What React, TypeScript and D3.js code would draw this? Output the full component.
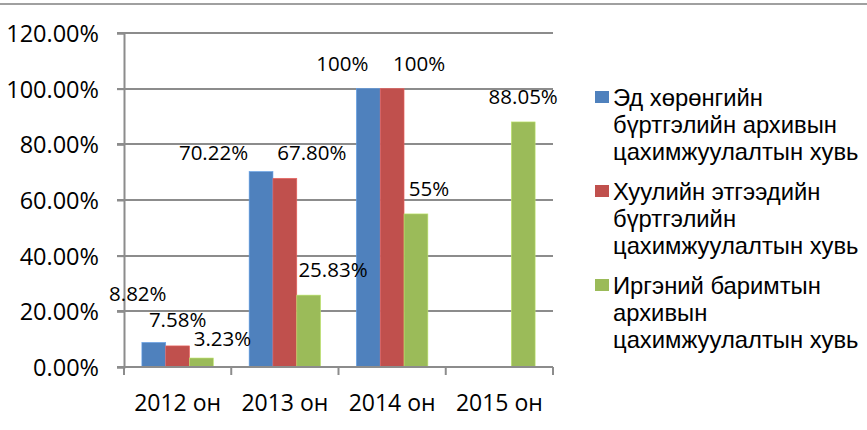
import { useEffect, useRef } from 'react';
import * as d3 from 'd3';

// values (fractions)
const categories = ['2012 он', '2013 он', '2014 он', '2015 он'];
const seriesNames = [
  ['Эд хөрөнгийн', 'бүртгэлийн архивын', 'цахимжуулалтын хувь'],
  ['Хуулийн этгээдийн', 'бүртгэлийн', 'цахимжуулалтын хувь'],
  ['Иргэний баримтын', 'архивын', 'цахимжуулалтын хувь'],
];
const assetValues = [0.0882, 0.7022, 1.0, null];
const legalValues = [0.0758, 0.678, 1.0, null];
const civilValues = [0.0323, 0.2583, 0.55, 0.8805];
const valueLabels = [
  ['8.82%', '70.22%', '100%', ''],
  ['7.58%', '67.80%', '100%', ''],
  ['3.23%', '25.83%', '55%', '88.05%'],
];
const yTicks = [0, 0.2, 0.4, 0.6, 0.8, 1.0, 1.2];

const COLORS = ['#4F81BD', '#C0504D', '#9BBB59'];
// hand-placed label nudges from the original (dx from bar centre, dy from bar top to label centre)
const NUDGE: [number, number][][] = [
  [[-16, -48.5], [-47.5, -19], [-26, -24.7], [0, 0]],
  [[0, -26], [27, -25.3], [27, -24.7], [0, 0]],
  [[21, -19.5], [24.3, -25], [13, -25], [0, -25]],
];

const W = 867;
const H = 430;
const PLOT = { left: 124, right: 553, top: 33, bottom: 367 };
const NUM_FONT = "'Open Sans', 'Liberation Sans', sans-serif";
const LEG_FONT = "'Liberation Sans', Arial, sans-serif";
const GRID = '#8c8c8c';

export default function App() {
  const ref = useRef<SVGSVGElement>(null);

  useEffect(() => {
    const svg = d3.select(ref.current);
    svg.selectAll('*').remove();

    const series = [assetValues, legalValues, civilValues];

    const x = d3.scaleBand<string>().domain(categories).range([PLOT.left, PLOT.right]);
    const bw = x.bandwidth();
    const barW = bw / 4.5; // gap width 150%
    const inner = d3.scaleBand<number>()
      .domain([0, 1, 2])
      .range([barW * 0.75, bw - barW * 0.75]);
    const y = d3.scaleLinear().domain([0, 1.2]).range([PLOT.bottom, PLOT.top]);

    // strip of the page above the chart
    svg.append('line')
      .attr('x1', 0).attr('x2', W).attr('y1', 4).attr('y2', 4)
      .attr('stroke', '#a0a0a0').attr('stroke-width', 2);

    // gridlines
    svg.append('g').selectAll('line')
      .data(yTicks.filter((t) => t > 0))
      .enter().append('line')
      .attr('x1', PLOT.left - 7).attr('x2', PLOT.right)
      .attr('y1', (d) => Math.round(y(d))).attr('y2', (d) => Math.round(y(d)))
      .attr('stroke', GRID).attr('stroke-width', 2);

    // y axis
    const yAxis = svg.append('g')
      .attr('transform', `translate(${PLOT.left},0)`)
      .call(d3.axisLeft(y).tickValues(yTicks).tickSize(7).tickPadding(18)
        .tickFormat((d) => `${((d as number) * 100).toFixed(2)}%`));
    yAxis.select('.domain').attr('stroke', GRID).attr('stroke-width', 2);
    yAxis.selectAll('.tick line').attr('stroke', GRID).attr('stroke-width', 2);
    yAxis.selectAll('.tick text')
      .attr('fill', '#000').attr('font-size', '23.5px').attr('font-family', NUM_FONT)
      .attr('dy', '0.36em');

    // bars
    series.forEach((vals, si) => {
      svg.append('g').selectAll('rect')
        .data(vals.map((v, ci) => ({ v, ci })).filter((d) => d.v != null))
        .enter().append('rect')
        .attr('x', (d) => (x(categories[d.ci]) as number) + (inner(si) as number))
        .attr('width', inner.bandwidth())
        .attr('y', (d) => y(d.v as number))
        .attr('height', (d) => PLOT.bottom - y(d.v as number))
        .attr('fill', COLORS[si])
        .attr('stroke', d3.color(COLORS[si])!.brighter(0.6).toString())
        .attr('stroke-width', 0.6);
    });

    // x axis
    const xAxisG = svg.append('g').attr('transform', `translate(0,${PLOT.bottom})`);
    xAxisG.append('line')
      .attr('x1', PLOT.left - 7).attr('x2', PLOT.right)
      .attr('stroke', GRID).attr('stroke-width', 2);
    xAxisG.selectAll('.cat-tick')
      .data([...categories.map((c) => x(c) as number), PLOT.right])
      .enter().append('line')
      .attr('x1', (d) => d).attr('x2', (d) => d)
      .attr('y1', 0).attr('y2', 8)
      .attr('stroke', GRID).attr('stroke-width', 2);
    xAxisG.selectAll('text')
      .data(categories)
      .enter().append('text')
      .attr('x', (d) => (x(d) as number) + bw / 2)
      .attr('y', 44)
      .attr('text-anchor', 'middle')
      .attr('font-size', '23px').attr('font-family', NUM_FONT)
      .text((d) => d);

    // data labels
    series.forEach((vals, si) => {
      vals.forEach((v, ci) => {
        if (v == null) return;
        const cx = (x(categories[ci]) as number) + (inner(si) as number) + inner.bandwidth() / 2;
        const [dx, dy] = NUDGE[si][ci];
        svg.append('text')
          .attr('x', cx + dx)
          .attr('y', y(v) + dy + 7.2)
          .attr('text-anchor', 'middle')
          .attr('font-size', '20.5px').attr('font-family', NUM_FONT)
          .text(valueLabels[si][ci]);
      });
    });

    // legend
    const leg = svg.append('g');
    seriesNames.forEach((lines, si) => {
      const base = 106 + si * 94;
      leg.append('rect')
        .attr('x', 595).attr('y', base - 15)
        .attr('width', 14).attr('height', 12)
        .attr('fill', COLORS[si]);
      lines.forEach((ln, li) => {
        leg.append('text')
          .attr('x', 613).attr('y', base + li * 27)
          .attr('font-size', '23.8px').attr('font-family', LEG_FONT)
          .text(ln);
      });
    });
  }, []);

  return (
    <svg
      ref={ref}
      width={W}
      height={H}
      style={{ position: 'absolute', left: 0, top: 0, background: '#fff' }}
    />
  );
}
